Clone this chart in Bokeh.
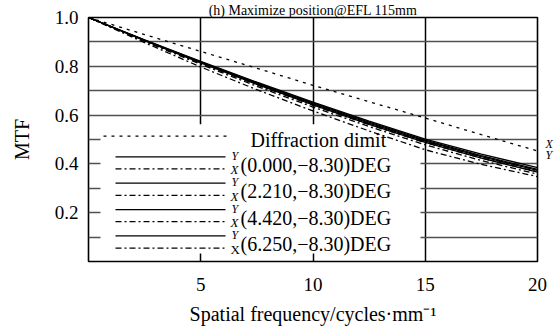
from bokeh.plotting import figure
from bokeh.models import (Range1d, FixedTicker, Label, Arrow, BoxAnnotation,
                          PrintfTickFormatter, LinearAxis)
from bokeh.embed import file_html
from bokeh.resources import INLINE

# ---- data ----
freq = [0, 2.5, 5, 7.5, 10, 12.5, 15, 17.5, 20]
diffraction = [1.0, 0.930, 0.861, 0.792, 0.722, 0.655, 0.588, 0.520, 0.453]
y_0000 = [1.0, 0.908, 0.820, 0.735, 0.653, 0.575, 0.502, 0.440, 0.385]
x_0000 = [1.0, 0.905, 0.815, 0.728, 0.645, 0.566, 0.492, 0.430, 0.375]
y_2210 = [1.0, 0.907, 0.818, 0.732, 0.650, 0.571, 0.497, 0.434, 0.378]
x_2210 = [1.0, 0.904, 0.812, 0.724, 0.640, 0.561, 0.487, 0.424, 0.368]
y_4420 = [1.0, 0.906, 0.816, 0.729, 0.646, 0.567, 0.493, 0.430, 0.373]
x_4420 = [1.0, 0.902, 0.808, 0.718, 0.633, 0.553, 0.478, 0.414, 0.358]
y_6250 = [1.0, 0.905, 0.814, 0.726, 0.642, 0.562, 0.488, 0.424, 0.366]
x_6250 = [1.0, 0.897, 0.797, 0.704, 0.617, 0.535, 0.458, 0.398, 0.348]
fields = ["(0.000,\u22128.30)DEG", "(2.210,\u22128.30)DEG",
          "(4.420,\u22128.30)DEG", "(6.250,\u22128.30)DEG"]
series_y = [y_0000, y_2210, y_4420, y_6250]
series_x = [x_0000, x_2210, x_4420, x_6250]
x_ticks = [5, 10, 15, 20]
y_ticks = [0.2, 0.4, 0.6, 0.8, 1.0]
x_grid = [5, 10, 15]
y_grid = [0.1, 0.2, 0.3, 0.4, 0.5, 0.6, 0.7, 0.8, 0.9]
title_text = "(h) Maximize position@EFL 115mm"
diff_label = "Diffraction dimit"
end_labels = ["X", "Y"]

FONT = "Liberation Serif"
W, H = 559, 327
BL, BR, BT, BB = 88, 22, 17, 63
X0, X1, Y0, Y1 = 0, 20, 0, 1.0
DASHDOT = "6 3 2 3"
DOTTED = "3 5"

p = figure(width=W, height=H, output_backend="svg", toolbar_location=None,
           x_range=Range1d(X0, X1), y_range=Range1d(Y0, Y1),
           min_border_left=BL, min_border_right=BR, min_border_top=BT,
           min_border_bottom=BB)
p.background_fill_color = "white"
p.border_fill_color = "white"
p.outline_line_color = "black"
p.outline_line_width = 1.6

# title (reference shows it cut at the top edge; kept whole but small here)
p.title.text = title_text
p.title.text_font = FONT
p.title.text_font_size = "14px"
p.title.text_font_style = "normal"
p.title.text_color = "black"
p.title.align = "center"
p.title.offset = -21
p.title.standoff = 0
p.title.vertical_align = "bottom"

# frame-pixel helpers for legend layout
fw, fh = W - BL - BR, H - BT - BB
def dx(px):
    return X0 + (px - BL) / fw * (X1 - X0)
def dy(py):
    return Y0 + (BT + fh - py) / fh * (Y1 - Y0)

# axes
for ax in (p.xaxis, p.yaxis):
    ax.axis_line_color = None
    ax.major_tick_line_color = None
    ax.minor_tick_line_color = None
    ax.major_label_text_font = FONT
    ax.major_label_text_font_size = "19px"
    ax.major_label_text_color = "black"
    ax.axis_label_text_font = FONT
    ax.axis_label_text_font_size = "20px"
    ax.axis_label_text_font_style = "normal"
    ax.axis_label_text_color = "black"
p.xaxis.ticker = FixedTicker(ticks=x_ticks)
p.yaxis.ticker = FixedTicker(ticks=y_ticks)
p.yaxis.formatter = PrintfTickFormatter(format="%.1f")
p.xaxis.major_label_standoff = 10
p.yaxis.major_label_standoff = 4
p.xaxis.axis_label = "Spatial frequency/cycles\u00b7mm\u207b\u00b9"
p.yaxis.axis_label = "MTF"
p.xaxis.axis_label_standoff = 9
p.yaxis.axis_label_standoff = 19

# right-hand end markers of the diffraction curves (X above, Y below)
end_pos = [diffraction[-1] + 0.03, diffraction[-1] - 0.018]
rax = LinearAxis(ticker=FixedTicker(ticks=end_pos),
                 major_label_overrides={v: s for v, s in zip(end_pos, end_labels)})
rax.axis_line_color = None
rax.major_tick_line_color = None
rax.minor_tick_line_color = None
rax.major_label_standoff = 2
rax.major_label_text_font = FONT
rax.major_label_text_font_size = "12px"
rax.major_label_text_font_style = "italic"
rax.major_label_text_color = "black"
p.add_layout(rax, "right")

# grids
p.xgrid.ticker = FixedTicker(ticks=x_grid)
p.ygrid.ticker = FixedTicker(ticks=y_grid)
p.xgrid.grid_line_color = "black"
p.xgrid.grid_line_width = 1.5
p.ygrid.grid_line_color = "#505050"
p.ygrid.grid_line_width = 1.5

# legend background (covers grid, under curves)
p.add_layout(BoxAnnotation(left=dx(100), right=dx(420), top=dy(125), bottom=dy(256),
                           fill_color="white", fill_alpha=1.0, line_color=None,
                           level="underlay"))

# curves
p.line(freq, diffraction, line_color="black", line_width=1.3, line_dash=DOTTED)
for ys, xs in zip(series_y, series_x):
    p.line(freq, ys, line_color="black", line_width=1.3)
    p.line(freq, xs, line_color="black", line_width=1.3, line_dash=DASHDOT)

# legend
def key(y_px, x_a, x_b, dash):
    p.add_layout(Arrow(x_start=dx(x_a), y_start=dy(y_px), x_end=dx(x_b), y_end=dy(y_px),
                       start=None, end=None, line_color="black", line_width=1.3,
                       line_dash=dash))

def txt(x_px, y_px, s, size, style="normal"):
    p.add_layout(Label(x=dx(x_px), y=dy(y_px), text=s, text_font=FONT,
                       text_font_size=size, text_font_style=style,
                       text_baseline="middle", text_align="left", text_color="black"))

key(137, 103, 228, DOTTED)
txt(250, 141, diff_label, "20px")
for i, name in enumerate(fields):
    yl = 158 + 26.7 * i
    xl = yl + 12.3
    key(yl, 115, 225, "solid")
    key(xl, 115, 225, DASHDOT)
    txt(231, yl - 1, "Y", "12px", "italic")
    txt(230, xl + 1, "X", "13px", "italic" if i < len(fields) - 1 else "normal")
    txt(240, xl - 4, name, "20px")

open("out.html", "w").write(file_html(p, INLINE))
